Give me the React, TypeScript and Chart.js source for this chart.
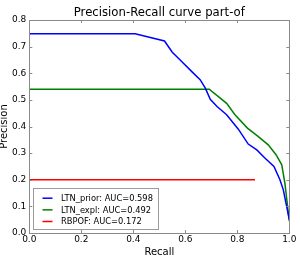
import React, { useEffect, useRef } from "react";
import { Chart, registerables } from "chart.js";

Chart.register(...registerables);

// Precision-recall curves for the "part-of" relation
const priorRecall = [0, 0.407, 0.52, 0.55, 0.586, 0.625, 0.657, 0.677, 0.696, 0.722, 0.759, 0.804, 0.842, 0.875, 0.907, 0.941, 0.964, 0.977, 1.0];
const priorPrecision = [0.748, 0.748, 0.721, 0.679, 0.644, 0.606, 0.576, 0.544, 0.502, 0.475, 0.444, 0.39, 0.334, 0.312, 0.281, 0.25, 0.2, 0.162, 0.05];

const explRecall = [0, 0.692, 0.759, 0.791, 0.839, 0.881, 0.919, 0.949, 0.971, 0.983, 1.0];
const explPrecision = [0.54, 0.54, 0.487, 0.444, 0.394, 0.362, 0.331, 0.294, 0.256, 0.187, 0.044];

const rbpofRecall = [0, 0.868];
const rbpofPrecision = [0.2, 0.2];

const seriesLabels = ["LTN_prior: AUC=0.598", "LTN_expl: AUC=0.492", "RBPOF: AUC=0.172"];
const seriesColors = ["#0000ff", "#008000", "#ff0000"];

const xTicks = [0, 0.2, 0.4, 0.6, 0.8, 1.0];
const yTicks = [0, 0.1, 0.2, 0.3, 0.4, 0.5, 0.6, 0.7, 0.8];

const chartTitle = "Precision-Recall curve part-of";

const FONT = "'DejaVu Sans', sans-serif";
const FRAME = "#8a8a8a";

const toPoints = (xs: number[], ys: number[]) => xs.map((x, i) => ({ x, y: ys[i] }));

// Full box around the plot with inward tick marks on all four sides
const framePlugin = {
  id: "frame",
  afterDatasetsDraw(chart: any) {
    const { ctx, chartArea: a, scales } = chart;
    ctx.save();
    ctx.strokeStyle = FRAME;
    ctx.lineWidth = 1;
    const tl = 3;
    ctx.beginPath();
    for (const v of xTicks) {
      const px = Math.round(scales.x.getPixelForValue(v)) + 0.5;
      ctx.moveTo(px, a.bottom);
      ctx.lineTo(px, a.bottom - tl);
      ctx.moveTo(px, a.top);
      ctx.lineTo(px, a.top + tl);
    }
    for (const v of yTicks) {
      const py = Math.round(scales.y.getPixelForValue(v)) + 0.5;
      ctx.moveTo(a.left, py);
      ctx.lineTo(a.left + tl, py);
      ctx.moveTo(a.right, py);
      ctx.lineTo(a.right - tl, py);
    }
    ctx.stroke();
    ctx.strokeRect(Math.round(a.left) + 0.5, Math.round(a.top) + 0.5, Math.round(a.right - a.left), Math.round(a.bottom - a.top));
    ctx.restore();
  },
};

// Title centred over the plot area rather than the whole canvas
const plotTitlePlugin = {
  id: "plotTitle",
  afterDraw(chart: any) {
    const { ctx, chartArea: a } = chart;
    ctx.save();
    ctx.font = `11.7px ${FONT}`;
    ctx.fillStyle = "#000000";
    ctx.textAlign = "center";
    ctx.textBaseline = "middle";
    ctx.fillText(chartTitle, (a.left + a.right) / 2, a.top - 7.4);
    ctx.restore();
  },
};

// Legend box in the lower-left corner of the plot
const insideLegendPlugin = {
  id: "insideLegend",
  afterDraw(chart: any) {
    const { ctx, chartArea: a } = chart;
    const datasets = chart.data.datasets;
    const left = Math.round(a.left + 4) + 0.5;
    const bottom = Math.round(a.bottom - 4) + 0.5;
    const w = 125;
    const h = 41;
    const top = bottom - h;
    ctx.save();
    ctx.fillStyle = "#ffffff";
    ctx.fillRect(left, top, w, h);
    ctx.strokeStyle = "#9a9a9a";
    ctx.lineWidth = 1;
    ctx.strokeRect(left, top, w, h);
    ctx.font = `8.3px ${FONT}`;
    ctx.textBaseline = "middle";
    ctx.textAlign = "left";
    datasets.forEach((ds: any, i: number) => {
      const y = top + 9.7 + i * 11.65;
      ctx.strokeStyle = ds.borderColor;
      ctx.lineWidth = 1.5;
      ctx.beginPath();
      ctx.moveTo(left + 9, y);
      ctx.lineTo(left + 19, y);
      ctx.stroke();
      ctx.fillStyle = "#000000";
      ctx.fillText(ds.label, left + 27.5, y + 0.5);
    });
    ctx.restore();
  },
};

export default function App() {
  const canvasRef = useRef<HTMLCanvasElement | null>(null);

  useEffect(() => {
    document.body.style.margin = "0";
    const canvas = canvasRef.current;
    if (!canvas) return;
    Chart.defaults.font.family = FONT;
    Chart.defaults.color = "#000000";

    const chart = new Chart(canvas, {
      type: "line",
      data: {
        datasets: [
          { label: seriesLabels[0], data: toPoints(priorRecall, priorPrecision), borderColor: seriesColors[0] },
          { label: seriesLabels[1], data: toPoints(explRecall, explPrecision), borderColor: seriesColors[1] },
          { label: seriesLabels[2], data: toPoints(rbpofRecall, rbpofPrecision), borderColor: seriesColors[2] },
        ].map((d) => ({ ...d, borderWidth: 1.5, pointRadius: 0, tension: 0, fill: false, backgroundColor: d.borderColor })),
      },
      options: {
        responsive: false,
        animation: false,
        events: [],
        layout: { padding: { left: 0, right: 10.7, top: 20, bottom: 0 } },
        plugins: {
          legend: { display: false },
          tooltip: { enabled: false },
          title: { display: false },
        },
        scales: {
          x: {
            type: "linear",
            min: 0,
            max: 1,
            afterBuildTicks: (s: any) => {
              s.ticks = xTicks.map((v) => ({ value: v }));
            },
            afterFit: (s: any) => {
              s.height = 25;
            },
            grid: { display: false, drawTicks: false },
            border: { display: false },
            ticks: {
              padding: 1,
              maxRotation: 0,
              color: "#000000",
              font: { family: FONT, size: 9 },
              callback: (v: any) => Number(v).toFixed(1),
            },
            title: {
              display: true,
              text: "Recall",
              color: "#000000",
              font: { family: FONT, size: 10, lineHeight: 1.2 },
              padding: 0,
            },
          },
          y: {
            type: "linear",
            min: 0,
            max: 0.8,
            afterBuildTicks: (s: any) => {
              s.ticks = yTicks.map((v) => ({ value: v }));
            },
            afterFit: (s: any) => {
              s.width = 29.3;
            },
            grid: { display: false, drawTicks: false },
            border: { display: false },
            ticks: {
              padding: 3,
              color: "#000000",
              font: { family: FONT, size: 9 },
              callback: (v: any) => Number(v).toFixed(1),
            },
            title: {
              display: true,
              text: "Precision",
              color: "#000000",
              font: { family: FONT, size: 10, lineHeight: 0.9 },
              padding: 0,
            },
          },
        },
      },
      plugins: [framePlugin, insideLegendPlugin, plotTitlePlugin],
    } as any);

    return () => chart.destroy();
  }, []);

  return (
    <div style={{ position: "absolute", left: 0, top: 0, width: 300, height: 258, background: "#ffffff" }}>
      <canvas ref={canvasRef} width={300} height={258} style={{ display: "block", width: 300, height: 258 }} />
    </div>
  );
}
